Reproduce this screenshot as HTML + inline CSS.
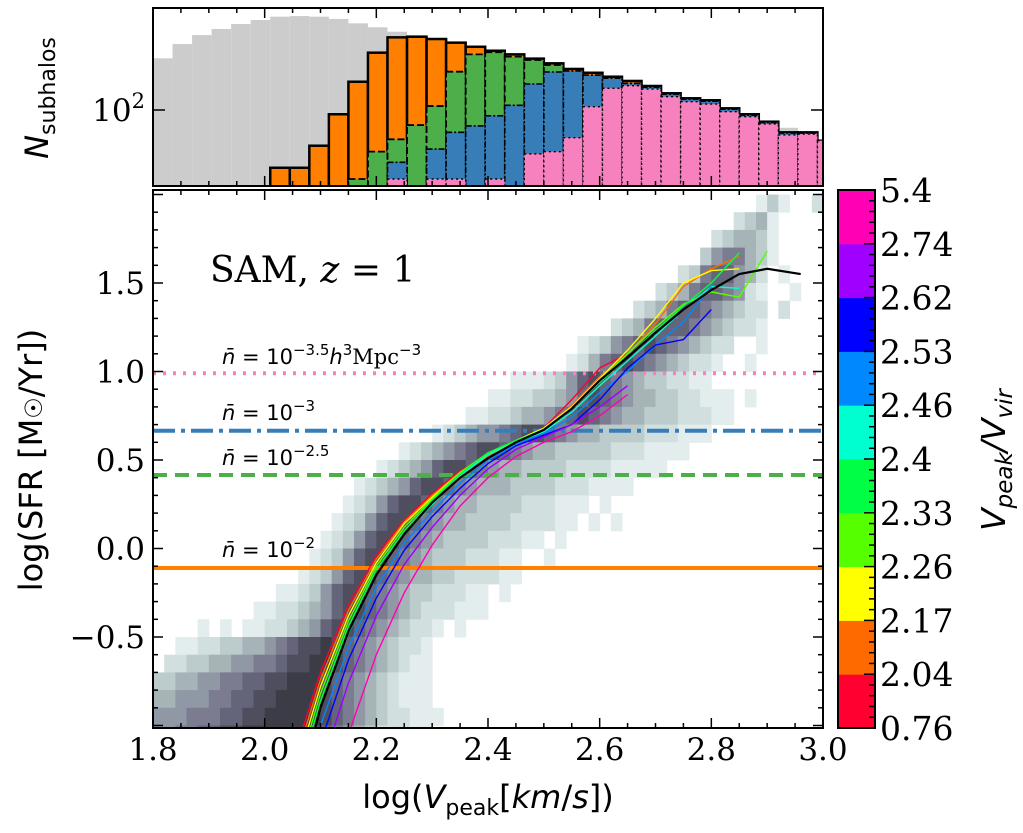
<!DOCTYPE html>
<html><head><meta charset="utf-8"><style>
html,body{margin:0;padding:0;background:#fff;width:1023px;height:833px;overflow:hidden;}
svg{display:block;}
.serif{font-family:"DejaVu Serif","Liberation Serif",serif;}
.sans{font-family:"DejaVu Sans","Liberation Sans",sans-serif;}
</style></head><body>
<svg id="fig" width="1023" height="833" viewBox="0 0 1023 833" xmlns="http://www.w3.org/2000/svg">
<defs>
<clipPath id="clipMain"><rect x="153" y="190" width="670" height="538"/></clipPath>
<clipPath id="clipTop"><rect x="153" y="8" width="670" height="178"/></clipPath>
</defs>
<g id="topPanel" clip-path="url(#clipTop)"></g>
<g id="heat" clip-path="url(#clipMain)"></g>
<g id="hlines" clip-path="url(#clipMain)"></g>
<g id="curves" clip-path="url(#clipMain)"></g>
<g id="axes"></g>
<g id="cbar"></g>

<text x="210" y="282" class="serif" font-size="36">SAM, <tspan font-style="italic">z</tspan> = 1</text>
<g class="sans" font-size="21">
<text x="222" y="364"><tspan font-style="italic">n̄</tspan> = 10<tspan font-size="15" dy="-9">−3.5</tspan><tspan font-style="italic" dy="9">h</tspan><tspan font-size="15" dy="-9">3</tspan><tspan class="serif" dy="9">Mpc</tspan><tspan font-size="15" dy="-9">−3</tspan></text>
<text x="222" y="420"><tspan font-style="italic">n̄</tspan> = 10<tspan font-size="15" dy="-9">−3</tspan></text>
<text x="222" y="465"><tspan font-style="italic">n̄</tspan> = 10<tspan font-size="15" dy="-9">−2.5</tspan></text>
<text x="222" y="557"><tspan font-style="italic">n̄</tspan> = 10<tspan font-size="15" dy="-9">−2</tspan></text>
</g>
<text class="sans" font-size="32" transform="translate(42,460) rotate(-90)" text-anchor="middle">log(SFR [M<tspan font-size="24">☉</tspan>/Yr])</text>
<text class="sans" font-size="32" transform="translate(48,98) rotate(-90)" text-anchor="middle"><tspan font-style="italic">N</tspan><tspan font-size="22" dy="7">subhalos</tspan></text>
<text class="sans" font-size="32" x="488" y="808" text-anchor="middle">log(<tspan font-style="italic">V</tspan><tspan font-size="22" dy="7">peak</tspan><tspan dy="-7">[</tspan><tspan font-style="italic">km</tspan>/<tspan font-style="italic">s</tspan>])</text>
<text class="sans" font-size="33" transform="translate(1005,460) rotate(-90)" text-anchor="middle"><tspan font-style="italic">V</tspan><tspan font-size="23" dy="7" font-style="italic">peak</tspan><tspan dy="-7" font-style="italic">/V</tspan><tspan font-size="23" dy="7" font-style="italic">vir</tspan></text>
</svg>
<script>
// ---------- data ----------
const histBinStart = 1.8;
const histBinWidth = 0.035;
const grayTop   = [2.340,2.434,2.493,2.533,2.566,2.592,2.614,2.618,2.614,2.599,2.570,2.544,2.515,2.493,2.470,2.446,2.419,2.393,2.369,2.341,2.310,2.273,2.248,2.222,2.194,2.161,2.113,2.080,2.067,2.014,1.975,1.926,1.883,1.856,1.800];
const totalTop  = [null,null,null,null,null,null,1.620,1.620,1.765,1.972,2.186,2.377,2.478,2.482,2.467,2.443,2.416,2.390,2.366,2.338,2.307,2.270,2.245,2.219,2.191,2.158,2.110,2.077,2.064,2.011,1.972,1.923,1.853,1.853,1.798];
const greenTop  = [null,null,null,null,null,null,null,null,null,null,1.546,1.726,1.807,1.901,2.026,2.252,2.366,2.380,2.351,2.329,2.296,null,null,null,null,null,null,null,null,null,null,null,null,null,null];
const blueTop   = [null,null,null,null,null,null,null,null,null,null,null,null,1.656,null,1.743,1.853,1.895,1.962,2.031,2.171,2.250,2.257,2.230,2.209,2.175,2.150,2.104,2.071,2.058,2.005,1.966,1.918,1.848,1.848,1.795];
const pinkTop   = [null,null,null,null,null,null,null,null,null,null,null,null,1.546,null,1.546,1.546,null,1.546,null,1.711,1.726,1.818,2.022,2.143,2.160,2.138,2.088,2.055,2.039,1.989,1.956,1.908,1.836,1.842,1.798];

const heatColStart = 1.8, heatColWidth = 0.02, heatRowHeight = 0.1;
const heatRowLow = [1.9,1.8,1.7,1.6,1.5,1.4,1.3,1.2,1.1,1.0,0.9,0.8,0.7,0.6,0.5,0.4,0.3,0.2,0.1,0.0,-0.1,-0.2,-0.3,-0.4,-0.5,-0.6,-0.7,-0.8,-0.9,-1.0,-1.1];
const heatRows = [
"54:131..2","52:2341.......2","50:234431......1","49:3566431","47:23677542.1","45:2346776521..1","43:234677654322.2","41:23467776543221",
"38:12356787654322..1","37:12467876543221..1","32:111235787654332211","30:1122334578765443322111.1","28:112234456787654433322211",
"25:1234556788765443333222111","22:12345678876544333332221111","20:12345788765443333222211111","18:1234578876544433332221111",
"17:1235788765443333222111.1","16:1235788765443333222211.1.1","15:12357887654333322211.1","14:1235788765433322211..1","13:12357887654433222211",
"11:1123578876543322211.1","9:112234578876543222111","4:1.1.112234578876543221.1","2:11223344567889876543221","1:223344556678899876543211",
"0:3344556677889998765432111","0:4455566778899998765432111","0:55566677889999987654322111","0:5566778899999987654322211"];
const heatShades = ["#ffffff","#e4eded","#d2dfdf","#bccbcc","#a6b4b8","#8f98a4","#7b7c8f","#64647a","#4e4e5e","#3c3c46"];

const medianX = [2.05,2.1,2.15,2.2,2.25,2.3,2.35,2.4,2.45,2.5,2.55,2.6,2.65,2.7,2.75,2.8,2.85,2.9,2.96];
const medianY = [-1.5,-0.9,-0.47,-0.15,0.08,0.26,0.4,0.51,0.6,0.67,0.79,0.95,1.08,1.22,1.35,1.46,1.55,1.58,1.55];
const curveX = [2.05,2.1,2.15,2.2,2.25,2.3,2.35,2.4,2.45,2.5,2.55,2.6,2.65,2.7,2.75,2.8,2.85,2.9];
const curveRed    = [-1.2,-0.7,-0.32,-0.04,0.16,0.31,0.44,0.52,0.6,0.68,0.84,1.02,1.1,null,null,null,null,null];
const curveOrange = [-1.25,-0.74,-0.35,-0.06,0.15,0.3,0.43,0.52,0.6,0.67,0.81,0.97,1.1,1.27,1.48,1.58,1.65,null];
const curveYellow = [-1.3,-0.78,-0.38,-0.08,0.14,0.29,0.43,0.53,0.61,0.68,0.8,0.96,1.12,1.3,1.5,1.57,1.58,null];
const curveLime   = [-1.35,-0.82,-0.41,-0.1,0.12,0.28,0.43,0.54,0.61,0.67,0.79,0.95,1.1,1.25,1.38,1.45,1.42,1.68];
const curveGreen  = [-1.4,-0.86,-0.44,-0.12,0.1,0.27,0.42,0.54,0.61,0.67,0.79,0.94,1.08,1.23,1.37,1.5,1.67,null];
const curveCyan   = [-1.45,-0.9,-0.48,-0.15,0.08,0.25,0.41,0.53,0.6,0.66,0.77,0.92,1.06,1.2,1.35,1.48,1.47,null];
const curveAzure  = [-1.6,-1.0,-0.56,-0.22,0.03,0.21,0.37,0.5,0.59,0.65,0.74,0.88,1.0,1.15,1.28,1.48,null,null];
const curveBlue   = [-1.7,-1.1,-0.63,-0.28,-0.01,0.18,0.34,0.48,0.58,0.64,0.7,0.84,1.02,1.15,1.18,1.35,null,null];
const curvePurple = [-1.9,-1.25,-0.76,-0.38,-0.09,0.12,0.3,0.45,0.56,0.63,0.7,0.8,0.92,null,null,null,null,null];
const curveMagenta= [-2.3,-1.6,-1.05,-0.6,-0.25,0.02,0.24,0.4,0.52,0.6,0.66,0.75,0.87,null,null,null,null,null];
const curveSeries = [curveRed,curveOrange,curveYellow,curveLime,curveGreen,curveCyan,curveAzure,curveBlue,curvePurple,curveMagenta];
const curveNames = ["red","orange","yellow","lime","green","cyan","azure","blue","purple","magenta"];
const cbarColors = ["#ff0030","#ff6a00","#ffff00","#55ff00","#00ff44","#00ffd0","#0088ff","#0000ff","#a000ff","#ff00b4"];
const cbarLabels = ["0.76","2.04","2.17","2.26","2.33","2.4","2.46","2.53","2.62","2.74","5.4"];

const thresholdValues = [0.99, 0.665, 0.415, -0.11];
const thresholdNames = ["n-3.5","n-3","n-2.5","n-2"];
const thresholdColors = ["#f781bf","#377eb8","#4daf4a","#ff7f00"];
const thresholdDash = ["3,7","22,6,4,6","14,8",""];

const xTicks = [1.8,2.0,2.2,2.4,2.6,2.8,3.0];
const xTickLabels = ["1.8","2.0","2.2","2.4","2.6","2.8","3.0"];
const yTicks = [-0.5,0.0,0.5,1.0,1.5];
const yTickLabels = ["−0.5","0.0","0.5","1.0","1.5"];

// ---------- scales ----------
const X = v => 153 + (v - 1.8) * 558.33;
const Y = v => 548.5 - v * 177;
const YT = L => 110 - (L - 2) * 152;
const NS = "http://www.w3.org/2000/svg";
function mk(tag, attrs, parent){ const e=document.createElementNS(NS,tag); for(const k in attrs) e.setAttribute(k,attrs[k]); parent.appendChild(e); return e; }

// ---------- histogram ----------
const topG = document.getElementById('topPanel');
const hb = 186;
function bar(k, L, fill, name, dash, sw){
  if(L===null) return;
  const x0 = X(histBinStart + k*histBinWidth), x1 = X(histBinStart + (k+1)*histBinWidth);
  const r = mk('rect',{x:x0,y:YT(L),width:x1-x0,height:Math.max(0,hb-YT(L)+4),fill:fill,stroke:dash===null?'none':'#000','stroke-width':sw,'stroke-dasharray':dash||''},topG);
  
  
}
grayTop.forEach((L,k)=>bar(k,L,'#cccccc','hist-all-bar',null,0));
totalTop.forEach((L,k)=>bar(k,L,'#ff7f00','hist-orange-bar','',2.5));
greenTop.forEach((L,k)=>bar(k,L,'#4daf4a','hist-green-bar','7,3',1.8));
blueTop.forEach((L,k)=>bar(k,L,'#377eb8','hist-blue-bar','6,2,2,2',1.6));
pinkTop.forEach((L,k)=>bar(k,L,'#f781bf','hist-pink-bar','2,3',1.4));

// ---------- heatmap ----------
const heat = document.getElementById('heat');
heatRows.forEach((row,ri)=>{
  const parts = row.split(':'); const off = parseInt(parts[0]); const s = parts[1];
  const y0 = heatRowLow[ri];
  for(let i=0;i<s.length;i++){
    const ch = s[i]; if(ch==='.') continue;
    const d = parseInt(ch); if(!d) continue;
    const c = off+i;
    const xa = X(heatColStart + c*heatColWidth), xb = X(heatColStart + (c+1)*heatColWidth);
    const r = mk('rect',{x:xa,y:Y(y0+heatRowHeight),width:xb-xa+0.5,height:Y(y0)-Y(y0+heatRowHeight)+0.5,fill:heatShades[d]},heat);
    
    
  }
});

// ---------- threshold lines ----------
const hl = document.getElementById('hlines');
thresholdValues.forEach((v,i)=>{
  const l = mk('line',{x1:153,x2:823,y1:Y(v),y2:Y(v),stroke:thresholdColors[i],'stroke-width':4,'stroke-dasharray':thresholdDash[i]},hl);
  
  
});

// ---------- curves ----------
const cv = document.getElementById('curves');
curveSeries.forEach((ys,si)=>{
  let d='';
  ys.forEach((v,i)=>{ if(v===null) return; d += (d?'L':'M') + X(curveX[i]).toFixed(1)+','+Y(v).toFixed(1); });
  const p = mk('path',{d:d,fill:'none',stroke:cbarColors[si],'stroke-width':1.4},cv);
  
  
});
{
  let d=''; medianX.forEach((x,i)=>{ d += (i?'L':'M') + X(x).toFixed(1)+','+Y(medianY[i]).toFixed(1); });
  const p = mk('path',{d:d,fill:'none',stroke:'#000','stroke-width':2.2},cv);
  
  
}

// ---------- axes ----------
const ax = document.getElementById('axes');
function frame(x,y,w,h,name){ const r=mk('rect',{x:x,y:y,width:w,height:h,fill:'none',stroke:'#000','stroke-width':2},ax);   }
frame(153,8,670,178,'histogram-frame');
frame(153,190,670,538,'main-frame');
function tick(x1,y1,x2,y2){ mk('line',{x1:x1,y1:y1,x2:x2,y2:y2,stroke:'#000','stroke-width':1.5},ax); }
for(let v=1.8; v<=3.0001; v+=0.05){
  const x = X(v); const maj = Math.abs((v*5)-Math.round(v*5))<1e-6; const L = maj?10:5;
  tick(x,728,x,728-L); tick(x,190,x,190+L); tick(x,186,x,186-L); tick(x,8,x,8+L);
}
for(let v=-1.0; v<=2.0001; v+=0.1){
  const y = Y(v); if(y<190||y>728) continue; const maj = Math.abs(v*2-Math.round(v*2))<1e-6; const L = maj?10:5;
  tick(153,y,153+L,y); tick(823,y,823-L,y);
}
tick(153,110,165,110); tick(823,110,811,110);
xTicks.forEach((v,i)=>{ const t=mk('text',{x:X(v),y:760,'text-anchor':'middle','font-size':31,class:'serif'},ax); t.textContent=xTickLabels[i];   });
yTicks.forEach((v,i)=>{ const t=mk('text',{x:145,y:Y(v)+11,'text-anchor':'end','font-size':31,class:'serif'},ax); t.textContent=yTickLabels[i];   });
{ const t=mk('text',{x:145,y:121,'text-anchor':'end','font-size':31,class:'serif'},ax); t.textContent='10'; const s=mk('tspan',{'font-size':21,dy:-13},t); s.textContent='2';   }

// ---------- colorbar ----------
const cb = document.getElementById('cbar');
const cbTop=190, cbBot=728, seg=(cbBot-cbTop)/cbarColors.length;
cbarColors.forEach((c,i)=>{ const r=mk('rect',{x:838,y:cbBot-(i+1)*seg,width:37,height:seg+0.5,fill:c},cb);   });
mk('rect',{x:838,y:cbTop,width:37,height:cbBot-cbTop,fill:'none',stroke:'#000','stroke-width':2},cb);
for(let i=0;i<=cbarColors.length*5;i++){ const y=cbBot-i*seg/5; const L=(i%5===0)?11:6; mk('line',{x1:875,x2:875-L,y1:y,y2:y,stroke:'#000','stroke-width':1.5},cb); }
cbarLabels.forEach((s,i)=>{ const t=mk('text',{x:880,y:cbBot-i*seg+12,'font-size':33,class:'serif'},cb); t.textContent=s;   });
</script>
</body></html>
